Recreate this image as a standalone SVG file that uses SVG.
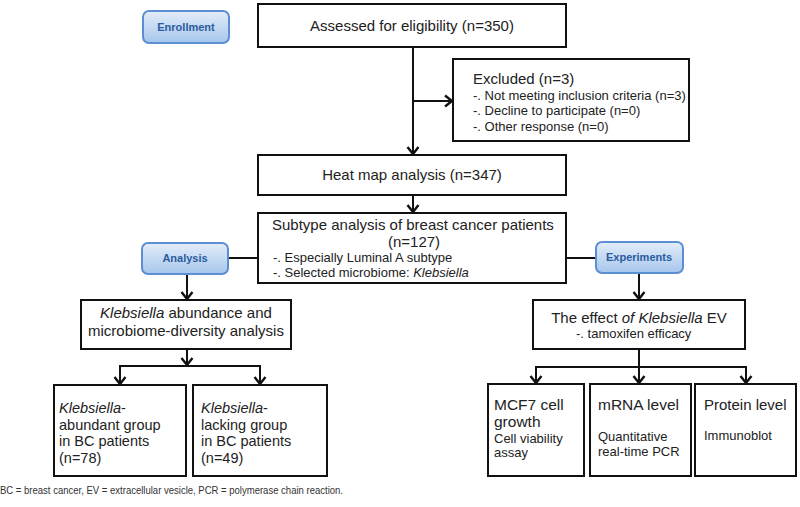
<svg xmlns="http://www.w3.org/2000/svg" width="800" height="507" viewBox="0 0 800 507">
<defs>
<linearGradient id="btn" x1="0" y1="0" x2="0" y2="1">
<stop offset="0" stop-color="#e3edf9"/>
<stop offset="1" stop-color="#a6c6ec"/>
</linearGradient>
<marker id="arr" markerUnits="userSpaceOnUse" viewBox="-10 -8 12 16" refX="0" refY="0" markerWidth="12" markerHeight="16" orient="auto">
<path d="M-7,-5.5 L0,0 L-7,5.5" fill="none" stroke="#111" stroke-width="2.4"/>
</marker>
</defs>
<style>
.box{fill:#fff;stroke:#111;stroke-width:2}
.btn{fill:url(#btn);stroke:#5b8fd2;stroke-width:2}
.bt{font-family:"Liberation Sans",Arial,sans-serif;font-size:11px;font-weight:bold;fill:#2b5b9e;text-anchor:middle}
.t{font-family:"Liberation Sans",Arial,sans-serif;font-size:15px;fill:#222}
.g{font-family:"Liberation Sans",Arial,sans-serif;font-size:14.5px;fill:#222}
.s{font-family:"Liberation Sans",Arial,sans-serif;font-size:13px;fill:#222}
.k{font-family:"Liberation Sans",Arial,sans-serif;fill:#222}
.c{text-anchor:middle}
.i{font-style:italic}
.ln{fill:none;stroke:#111;stroke-width:2}
.fn{font-family:"Liberation Sans",Arial,sans-serif;font-size:11px;fill:#333}
</style>
<g id="connectors">
<line class="ln" x1="413" y1="47" x2="413" y2="154" marker-end="url(#arr)"/>
<line class="ln" x1="413" y1="101" x2="452" y2="101" marker-end="url(#arr)"/>
<line class="ln" x1="413" y1="195" x2="413" y2="212" marker-end="url(#arr)"/>
<line class="ln" x1="228" y1="258" x2="258" y2="258"/>
<line class="ln" x1="566" y1="258" x2="596" y2="258"/>
<line class="ln" x1="187" y1="274" x2="187" y2="299" marker-end="url(#arr)"/>
<line class="ln" x1="187" y1="349" x2="187" y2="365" marker-end="url(#arr)"/>
<polyline class="ln" points="120,384 120,366 260,366 260,384"/>
<line class="ln" x1="120" y1="366" x2="120" y2="384" marker-end="url(#arr)"/>
<line class="ln" x1="260" y1="366" x2="260" y2="384" marker-end="url(#arr)"/>
<line class="ln" x1="639" y1="273" x2="639" y2="299" marker-end="url(#arr)"/>
<line class="ln" x1="639" y1="349" x2="639" y2="383" marker-end="url(#arr)"/>
<polyline class="ln" points="536,383 536,367 746,367 746,383"/>
<line class="ln" x1="536" y1="367" x2="536" y2="383" marker-end="url(#arr)"/>
<line class="ln" x1="746" y1="367" x2="746" y2="383" marker-end="url(#arr)"/>
</g>
<g id="enrollment">
<rect class="btn" x="143" y="11" width="86" height="32" rx="6"/>
<text class="bt" x="186" y="31">Enrollment</text>
</g>
<g id="assessed">
<rect class="box" x="258" y="4" width="308" height="43"/>
<text class="t c" x="412" y="31">Assessed for eligibility (n=350)</text>
</g>
<g id="excluded">
<rect class="box" x="453" y="59" width="236" height="82"/>
<text class="t" x="473" y="84">Excluded (n=3)</text>
<text class="s" x="473" y="100" font-size="12.7">-. Not meeting inclusion criteria (n=3)</text>
<text class="s" x="473" y="115" font-size="12.7">-. Decline to participate (n=0)</text>
<text class="s" x="473" y="131" font-size="12.7">-. Other response (n=0)</text>
</g>
<g id="heatmap">
<rect class="box" x="258" y="155" width="308" height="40"/>
<text class="t c" x="412" y="180">Heat map analysis (n=347)</text>
</g>
<g id="subtype">
<rect class="box" x="258" y="213" width="308" height="70"/>
<text class="t" x="272" y="230" font-size="14.3">Subtype analysis of breast cancer patients</text>
<text class="t c" x="414" y="246.5" font-size="13">(n=127)</text>
<text class="s" x="273" y="262">-. Especially Luminal A subtype</text>
<text class="s" x="273" y="277">-. Selected microbiome: <tspan class="i">Klebsiella</tspan></text>
</g>
<g id="analysis">
<rect class="btn" x="142" y="243" width="86" height="31" rx="6"/>
<text class="bt" x="185" y="262">Analysis</text>
</g>
<g id="experiments">
<rect class="btn" x="596" y="242" width="87" height="31" rx="6"/>
<text class="bt" x="639" y="261">Experiments</text>
</g>
<g id="klebsiella-analysis">
<rect class="box" x="81" y="300" width="210" height="49"/>
<text class="t c" x="186" y="318"><tspan class="i">Klebsiella</tspan> abundance and</text>
<text class="t c" x="186" y="336">microbiome-diversity analysis</text>
</g>
<g id="abundant">
<rect class="box" x="54" y="385" width="132" height="91"/>
<text class="g" x="59" y="413"><tspan class="i">Klebsiella</tspan>-</text>
<text class="g" x="59" y="429.5">abundant group</text>
<text class="g" x="59" y="446">in BC patients</text>
<text class="g" x="59" y="462.5">(n=78)</text>
</g>
<g id="lacking">
<rect class="box" x="193" y="385" width="134" height="91"/>
<text class="g" x="201" y="413"><tspan class="i">Klebsiella</tspan>-</text>
<text class="g" x="201" y="429.5">lacking group</text>
<text class="g" x="201" y="446">in BC patients</text>
<text class="g" x="201" y="462.5">(n=49)</text>
</g>
<g id="effect">
<rect class="box" x="533" y="300" width="212" height="49"/>
<text class="t c" x="639" y="323">The effect <tspan class="i">of Klebsiella</tspan> EV</text>
<text class="s" x="576" y="338" font-size="12">-. tamoxifen efficacy</text>
</g>
<g id="mcf7">
<rect class="box" x="488" y="384" width="96" height="92"/>
<text class="k" x="494" y="410" font-size="15.5">MCF7 cell</text>
<text class="k" x="494" y="427" font-size="15.5">growth</text>
<text class="k" x="494" y="443" font-size="13">Cell viability</text>
<text class="k" x="494" y="457" font-size="13">assay</text>
</g>
<g id="mrna">
<rect class="box" x="590" y="384" width="101" height="92"/>
<text class="k" x="598" y="410" font-size="15.5">mRNA level</text>
<text class="k" x="598" y="441" font-size="13">Quantitative</text>
<text class="k" x="598" y="456" font-size="13">real-time PCR</text>
</g>
<g id="protein">
<rect class="box" x="695" y="384" width="101" height="92"/>
<text class="k" x="704" y="410" font-size="15">Protein level</text>
<text class="k" x="704" y="440" font-size="13">Immunoblot</text>
</g>
<text class="fn" x="0" y="494" textLength="343" lengthAdjust="spacingAndGlyphs">BC = breast cancer, EV = extracellular vesicle, PCR = polymerase chain reaction.</text>
</svg>
